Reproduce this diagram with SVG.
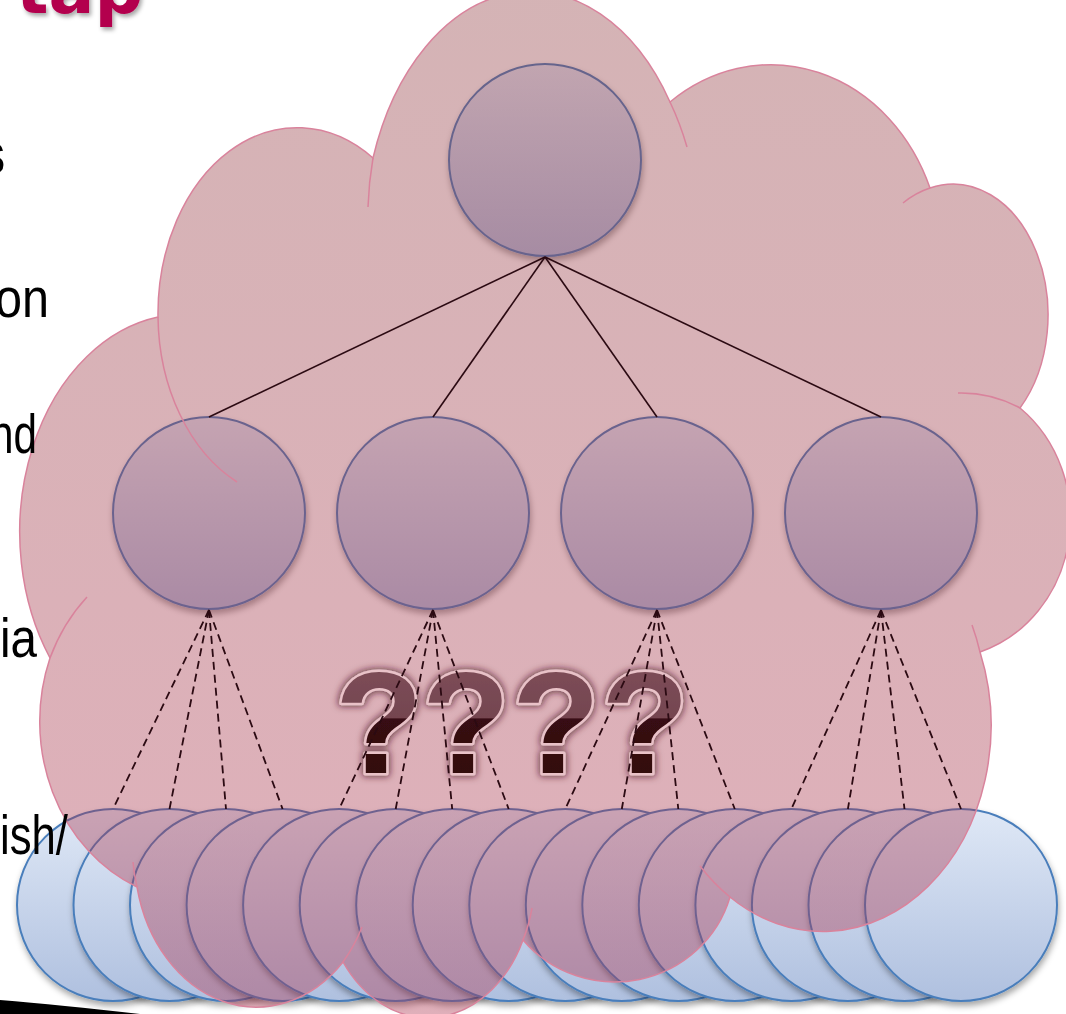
<svg xmlns="http://www.w3.org/2000/svg" width="1066" height="1014" viewBox="0 0 1066 1014">
<defs>
  <linearGradient id="blueFill" x1="0" y1="0" x2="0" y2="1">
    <stop offset="0" stop-color="#dfe8f6"/>
    <stop offset="1" stop-color="#afc0df"/>
  </linearGradient>
  <linearGradient id="cloudFill" gradientUnits="userSpaceOnUse" x1="0" y1="0" x2="0" y2="1014">
    <stop offset="0" stop-color="#913c41"/>
    <stop offset="1" stop-color="#ae324d"/>
  </linearGradient>
  <linearGradient id="qFill" gradientUnits="userSpaceOnUse" x1="0" y1="668" x2="0" y2="773">
    <stop offset="0" stop-color="#7d4d57"/>
    <stop offset="0.475" stop-color="#744550"/>
    <stop offset="0.485" stop-color="#370a12"/>
    <stop offset="1" stop-color="#33070f"/>
  </linearGradient>
  <filter id="shadow" x="-20%" y="-20%" width="140%" height="150%">
    <feGaussianBlur in="SourceAlpha" stdDeviation="3"/>
    <feOffset dx="1" dy="4" result="b"/>
    <feFlood flood-color="#000" flood-opacity="0.35"/>
    <feComposite in2="b" operator="in" result="s"/>
    <feMerge><feMergeNode in="s"/><feMergeNode in="SourceGraphic"/></feMerge>
  </filter>
  <filter id="qglow" x="-30%" y="-30%" width="160%" height="160%">
    <feMorphology in="SourceAlpha" operator="dilate" radius="1"/>
    <feGaussianBlur stdDeviation="3.5" result="b"/>
    <feFlood flood-color="#4a1422" flood-opacity="0.75"/>
    <feComposite in2="b" operator="in" result="g"/>
    <feMerge><feMergeNode in="g"/><feMergeNode in="SourceGraphic"/></feMerge>
  </filter>
  <filter id="tshadow" x="-20%" y="-50%" width="140%" height="200%">
    <feGaussianBlur in="SourceAlpha" stdDeviation="2"/>
    <feOffset dx="2" dy="3" result="b"/>
    <feFlood flood-color="#000" flood-opacity="0.35"/>
    <feComposite in2="b" operator="in" result="s"/>
    <feMerge><feMergeNode in="s"/><feMergeNode in="SourceGraphic"/></feMerge>
  </filter>
</defs>
<style>
  .node circle { fill: url(#blueFill); stroke: #4a7ebb; stroke-width: 2; filter: url(#shadow); }
  .edge { stroke: #2b0a12; stroke-width: 1.6; fill: none; }
  .dash { stroke-dasharray: 8 5; stroke-width: 1.8; }
  .cloud { fill: url(#cloudFill); fill-opacity: 0.39; stroke: #d9839c; stroke-width: 1.5; }
  .inner { fill: none; stroke: #d9839c; stroke-width: 1.5; }
  .side { font-family: "Liberation Sans", Arial, sans-serif; font-size: 56px; fill: #000; }
  .q { font-family: "Liberation Sans", Arial, sans-serif; font-weight: bold; font-size: 144px; fill: url(#qFill); stroke: #e9c2c8; stroke-width: 5; paint-order: stroke; stroke-linejoin: round; text-anchor: middle; filter: url(#qglow); }
</style>

<text x="16" y="13" font-family="DejaVu Sans, sans-serif" font-weight="bold" font-size="68" fill="#b3004d" filter="url(#tshadow)">tap</text>
<path d="M0 1000 Q60 1005 140 1014 L0 1014 Z" fill="#000"/>

<g id="bottom-nodes">
  <g id="b1" class="node"><circle cx="113" cy="905" r="96"/></g>
  <g id="b2" class="node"><circle cx="169.5" cy="905" r="96"/></g>
  <g id="b3" class="node"><circle cx="226" cy="905" r="96"/></g>
  <g id="b4" class="node"><circle cx="282.6" cy="905" r="96"/></g>
  <g id="b5" class="node"><circle cx="339.1" cy="905" r="96"/></g>
  <g id="b6" class="node"><circle cx="395.7" cy="905" r="96"/></g>
  <g id="b7" class="node"><circle cx="452.2" cy="905" r="96"/></g>
  <g id="b8" class="node"><circle cx="508.7" cy="905" r="96"/></g>
  <g id="b9" class="node"><circle cx="565.3" cy="905" r="96"/></g>
  <g id="b10" class="node"><circle cx="621.8" cy="905" r="96"/></g>
  <g id="b11" class="node"><circle cx="678.3" cy="905" r="96"/></g>
  <g id="b12" class="node"><circle cx="734.8" cy="905" r="96"/></g>
  <g id="b13" class="node"><circle cx="791.4" cy="905" r="96"/></g>
  <g id="b14" class="node"><circle cx="847.9" cy="905" r="96"/></g>
  <g id="b15" class="node"><circle cx="904.5" cy="905" r="96"/></g>
  <g id="b16" class="node"><circle cx="961" cy="905" r="96"/></g>
</g>
<g id="mid-nodes">
  <g id="m1" class="node"><circle cx="209" cy="513" r="96"/></g>
  <g id="m2" class="node"><circle cx="433" cy="513" r="96"/></g>
  <g id="m3" class="node"><circle cx="657" cy="513" r="96"/></g>
  <g id="m4" class="node"><circle cx="881" cy="513" r="96"/></g>
</g>
<g id="root-node" class="node"><circle cx="545" cy="160" r="96"/></g>

<g id="cloud">
  <path class="cloud" d="M158 317 A139 186 0 0 1 373 158 A167 247 0 0 1 670 102 A171 194 0 0 1 930 188 A95 131 0 0 1 1020 408 A130 140 0 0 1 980 652 A168 206 0 0 1 730 897 A120 118 0 0 1 523 940 A105 135 0 0 1 343 962 A122 152 0 0 1 137 887 A160 180 0 0 1 50 658 A165 218 0 0 1 158 317 Z"/>
  <path class="inner" d="M158 317 A139 186 0 0 0 237 482 M373 158 A167 247 0 0 0 368 207 M670 102 A167 247 0 0 1 687 147 M930 188 A95 131 0 0 0 903 203 M1020 408 A130 140 0 0 0 958 393 M980 652 A168 206 0 0 0 972 625 M730 897 A168 206 0 0 1 700 866 M523 940 A105 135 0 0 0 532 908 M343 962 A122 152 0 0 0 362 927 M137 887 A122 152 0 0 1 133 862 M50 658 A160 180 0 0 1 87 597"/>
</g>

<text class="q" x="379 466 556 645" y="773">????</text>

<g id="connectors">
  <line class="edge" x1="545" y1="257" x2="209" y2="417"/>
  <line class="edge" x1="545" y1="257" x2="433" y2="417"/>
  <line class="edge" x1="545" y1="257" x2="657" y2="417"/>
  <line class="edge" x1="545" y1="257" x2="881" y2="417"/>
  <line class="edge dash" x1="209" y1="610" x2="113" y2="809"/>
  <line class="edge dash" x1="209" y1="610" x2="169.5" y2="809"/>
  <line class="edge dash" x1="209" y1="610" x2="226" y2="809"/>
  <line class="edge dash" x1="209" y1="610" x2="282.6" y2="809"/>
  <line class="edge dash" x1="433" y1="610" x2="339.1" y2="809"/>
  <line class="edge dash" x1="433" y1="610" x2="395.7" y2="809"/>
  <line class="edge dash" x1="433" y1="610" x2="452.2" y2="809"/>
  <line class="edge dash" x1="433" y1="610" x2="508.7" y2="809"/>
  <line class="edge dash" x1="657" y1="610" x2="565.3" y2="809"/>
  <line class="edge dash" x1="657" y1="610" x2="621.8" y2="809"/>
  <line class="edge dash" x1="657" y1="610" x2="678.3" y2="809"/>
  <line class="edge dash" x1="657" y1="610" x2="734.8" y2="809"/>
  <line class="edge dash" x1="881" y1="610" x2="791.4" y2="809"/>
  <line class="edge dash" x1="881" y1="610" x2="847.9" y2="809"/>
  <line class="edge dash" x1="881" y1="610" x2="904.5" y2="809"/>
  <line class="edge dash" x1="881" y1="610" x2="961" y2="809"/>
</g>

<g id="side-text">
  <text class="side" x="-17" y="173" textLength="22" lengthAdjust="spacingAndGlyphs">s</text>
  <text class="side" x="-5" y="317" textLength="54" lengthAdjust="spacingAndGlyphs">on</text>
  <text class="side" x="-10" y="453" textLength="47" lengthAdjust="spacingAndGlyphs">nd</text>
  <text class="side" x="0" y="657" textLength="37" lengthAdjust="spacingAndGlyphs">ia</text>
  <text class="side" x="0" y="854" textLength="68" lengthAdjust="spacingAndGlyphs">ish/</text>
</g>
</svg>
